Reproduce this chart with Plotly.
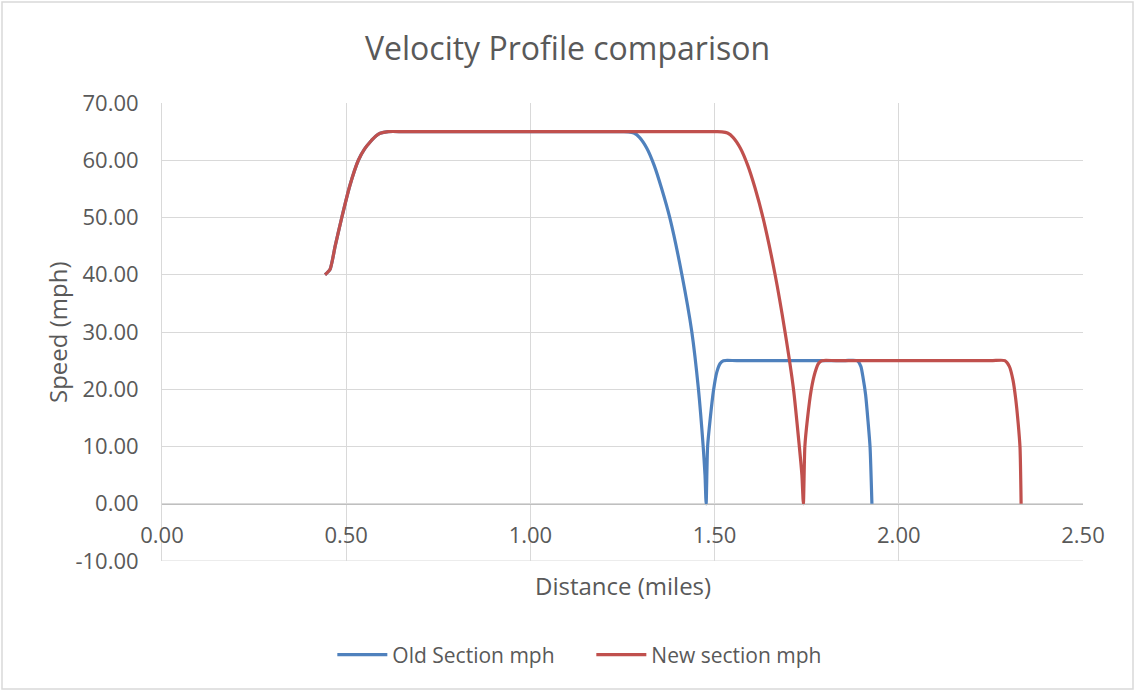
import plotly.graph_objects as go

# Old section: distance (miles) and speed (mph)
old_dist = [0.4425, 0.456, 0.470, 0.488, 0.510, 0.533, 0.550, 0.565, 0.580, 0.592, 0.614, 0.66,
            1.22, 1.252, 1.266, 1.281, 1.296, 1.316, 1.336, 1.356, 1.379, 1.411, 1.438, 1.456, 1.469, 1.474, 1.477,
            1.481, 1.488, 1.497, 1.506, 1.515, 1.524, 1.56,
            1.85, 1.887, 1.897, 1.903, 1.910, 1.917, 1.922, 1.927]
old_speed = [40.0, 40.9, 45.0, 50.0, 55.6, 60.0, 62.0, 63.2, 64.2, 64.7, 65.0, 65.0,
             65.0, 65.0, 64.97, 64.75, 64.0, 62.1, 59.1, 55.1, 49.8, 40.1, 30.1, 20.1, 10.0, 5.0, 0.0,
             10.0, 14.8, 19.8, 23.0, 24.5, 25.0, 25.0,
             25.0, 25.0, 24.0, 22.0, 19.0, 14.0, 9.9, 0.0]

# New section: distance (miles) and speed (mph)
new_dist = [0.4425, 0.456, 0.470, 0.488, 0.510, 0.533, 0.550, 0.565, 0.580, 0.592, 0.614, 0.66,
            1.47, 1.506, 1.520, 1.535, 1.550, 1.570, 1.590, 1.610, 1.632, 1.664, 1.691, 1.714, 1.730, 1.737, 1.741,
            1.745, 1.752, 1.762, 1.773, 1.782, 1.791, 1.83,
            2.25, 2.288, 2.300, 2.310, 2.317, 2.324, 2.329, 2.332]
new_speed = [40.0, 40.9, 45.0, 50.0, 55.6, 60.0, 62.0, 63.2, 64.2, 64.7, 65.0, 65.0,
             65.0, 65.0, 64.97, 64.75, 64.0, 62.1, 59.1, 55.1, 49.8, 40.1, 30.1, 20.1, 10.0, 5.0, 0.0,
             10.0, 14.8, 19.8, 23.0, 24.5, 25.0, 25.0,
             25.0, 25.0, 24.0, 21.6, 18.5, 14.1, 9.9, 0.0]

y_ticks = [-10, 0, 10, 20, 30, 40, 50, 60, 70]
y_tick_text = ["-10.00", "0.00", "10.00", "20.00", "30.00", "40.00", "50.00", "60.00", "70.00"]
x_ticks = [0.0, 0.5, 1.0, 1.5, 2.0, 2.5]
x_tick_text = ["0.00", "0.50", "1.00", "1.50", "2.00", "2.50"]

FONT = "Open Sans"
TXT = "#595959"
GRID = "#d9d9d9"

fig = go.Figure()
fig.add_trace(go.Scatter(x=old_dist, y=old_speed, mode="lines", name="Old Section mph",
                         line=dict(color="#4F81BD", width=3.2, shape="spline", smoothing=0.6)))
fig.add_trace(go.Scatter(x=new_dist, y=new_speed, mode="lines", name="New section mph",
                         line=dict(color="#C0504D", width=3.2, shape="spline", smoothing=0.6)))

fig.update_layout(
    width=1135, height=692,
    margin=dict(l=162, r=52, t=103, b=131),
    paper_bgcolor="white", plot_bgcolor="white",
    font=dict(family=FONT, color=TXT, size=21),
    title=dict(text="Velocity Profile comparison", x=0.5, xref="container", xanchor="center",
               y=1 - 49 / 692, yref="container", yanchor="middle",
               font=dict(size=32, color=TXT, family=FONT)),
    xaxis=dict(range=[0, 2.5], tickvals=x_ticks, ticktext=x_tick_text,
               showgrid=True, gridcolor=GRID, gridwidth=1,
               zeroline=False, showline=True, linecolor="#bfbfbf", linewidth=1,
               anchor="free", position=0.125, ticks="", ticklabelstandoff=12,
               tickfont=dict(size=22, color=TXT)),
    yaxis=dict(range=[-10, 70], tickvals=y_ticks, ticktext=y_tick_text,
               showgrid=True, gridcolor=GRID, gridwidth=1,
               zeroline=False, showline=True, linecolor=GRID, linewidth=1,
               ticks="", ticklabelstandoff=18,
               tickfont=dict(size=22, color=TXT)),
    legend=dict(orientation="h", x=0.521, xref="container", xanchor="center",
                y=1 - 655 / 692, yref="container", yanchor="middle",
                font=dict(size=21, color=TXT), itemwidth=50,
                traceorder="normal", entrywidthmode="pixels", entrywidth=194),
    showlegend=True,
)

fig.add_annotation(text="Distance (miles)", x=0.5, xref="paper", y=-(585 - 561) / 458, yref="paper",
                   showarrow=False, font=dict(size=24, color=TXT), yanchor="middle", xanchor="center")
fig.add_annotation(text="Speed (mph)", x=-(162 - 57) / 921, xref="paper", xanchor="center",
                   y=0.5, yref="paper", yanchor="middle",
                   showarrow=False, textangle=-90, font=dict(size=24, color=TXT))

# bottom gridline at -10
fig.add_shape(type="line", xref="paper", yref="y", x0=0, x1=1, y0=-10, y1=-10,
              line=dict(color=GRID, width=1), layer="below")
# outer chart border
fig.add_shape(type="rect", xref="paper", yref="paper",
              x0=(2 - 162) / 921, x1=(1133 - 162) / 921,
              y0=-(689 - 561) / 458, y1=1 + (103 - 2) / 458,
              line=dict(color=GRID, width=1.5), layer="below")

fig.write_html("out.html")
